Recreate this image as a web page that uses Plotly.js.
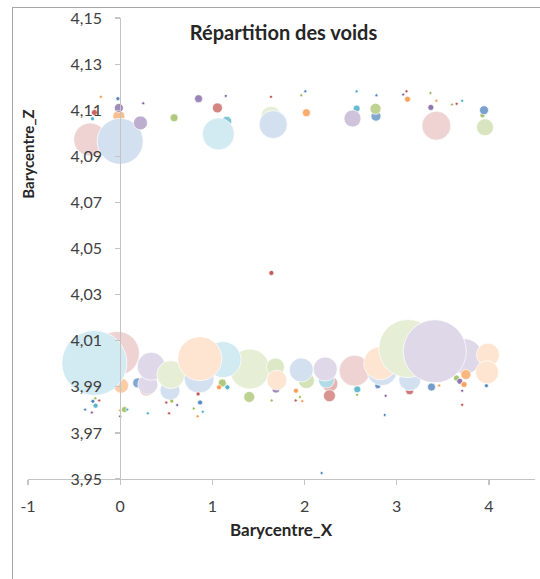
<!DOCTYPE html>
<html>
<head>
<meta charset="utf-8">
<script src="https://cdn.plot.ly/plotly-3.0.1.min.js"></script>
<style>
  html, body { margin: 0; padding: 0; background: #ffffff; }
  #wrap { position: relative; width: 540px; height: 579px; overflow: hidden; }
  #chart { position: absolute; left: 0; top: 0; width: 540px; height: 579px; }
  #frame { position: absolute; left: 12px; top: 7px; width: 600px; height: 600px;
           border-left: 1.5px solid #a6a6a6; border-top: 1.5px solid #a6a6a6; pointer-events: none; }
</style>
</head>
<body>
<div id="wrap"><div id="chart"></div><div id="frame"></div></div>
<script>
// ---- Data ----
const chartTitle = 'Répartition des voids';
const xTitle = 'Barycentre_X';
const yTitle = 'Barycentre_Z';
const xTickValues = [-1, 0, 1, 2, 3, 4];

// palette of the series (Excel 2010 default order)
const seriesColors = ['#4F81BD', '#C0504D', '#9BBB59', '#8064A2', '#4BACC6', '#F79646'];

// one entry per void, listed in drawing order
const barycentreX = [
  -0.014, -0.014, -0.325, 0.0, -0.30, -0.28, -0.21, -0.025, 0.25, 0.22,
  0.585, 0.85, 1.145, 1.055, 1.156, 1.065, 1.636, 1.636, 1.66, 1.965,
  2.008, 2.02, 2.565, 2.565, 2.52, 2.78, 2.775, 2.77, 3.106, 3.07,
  3.117, 3.366, 3.43, 3.37, 3.6, 3.65, 3.71, 3.43, 3.958, 3.93,
  3.947, 1.64, 2.185,
  -0.03, 0.01, -0.28, 0.19, 0.29, 0.30, 0.336, 0.54, 0.55, 0.856,
  1.405, 1.116, 0.864, 1.108, 1.072, 1.163, 1.40, 1.69, 1.685, 1.70,
  2.02, 1.965, 2.275, 2.27, 2.237, 2.225, 2.572, 2.57, 2.543, 2.795,
  2.84, 2.822, 3.14, 3.142, 3.12, 3.738, 3.75, 3.648, 3.684, 3.73,
  3.413, 3.377, 3.46, 3.71, 3.71, 3.973, 3.99, 3.98, 2.88, 2.87,
  -0.228, -0.27, -0.296, -0.267, -0.38, -0.307, 0.0, 0.047, 0.076, 0.0,
  0.3, 0.5, 0.56, 0.618, 0.53, 0.798, 0.84, 0.845, 0.867, 0.896,
  1.643, 1.907, 1.95, 1.904, 1.975
];
const barycentreZ = [
  4.1074, 4.1110, 4.0973, 4.0965, 4.1063, 4.1090, 4.1158, 4.1150, 4.1130, 4.1045,
  4.1067, 4.1150, 4.1162, 4.1110, 4.1052, 4.0997, 4.1158, 4.1074, 4.1038, 4.1165,
  4.1182, 4.1089, 4.1182, 4.1107, 4.1064, 4.1165, 4.1074, 4.1106, 4.1182, 4.1168,
  4.1148, 4.1175, 4.1141, 4.1112, 4.1125, 4.1128, 4.1141, 4.1033, 4.1026, 4.1078,
  4.1100, 4.0394, 3.9526,
  4.0045, 3.9905, 4.0003, 3.9917, 3.9895, 3.9910, 3.9989, 3.9885, 3.9953, 3.9938,
  3.9977, 4.0018, 4.0022, 3.9917, 3.9898, 3.9898, 3.9856, 3.9890, 3.9986, 3.9929,
  3.9927, 3.9973, 3.9913, 3.9861, 3.9929, 3.9977, 3.9889, 3.9866, 3.9970, 3.9905,
  3.9970, 4.0002, 3.9883, 3.9931, 4.0066, 4.0032, 3.9953, 3.9938, 3.9924, 3.9910,
  4.0054, 3.9899, 3.9906, 3.9883, 3.9822, 3.9905, 4.0039, 3.9963, 3.9861, 3.9778,
  3.9841, 3.9850, 3.9837, 3.9818, 3.9801, 3.9789, 3.9798, 3.9801, 3.9801, 3.9772,
  3.9785, 3.9832, 3.9838, 3.9821, 3.9785, 3.9806, 3.9772, 3.9869, 3.9832, 3.9792,
  3.9841, 3.9883, 3.9856, 3.9841, 3.9838
];
// bubble size (relative void size)
const taille = [
  1.44, 0.81, 10.89, 21.16, 0.16, 0.36, 0.04, 0.16, 0.04, 1.96,
  0.64, 0.64, 0.04, 1.00, 1.00, 10.24, 0.04, 4.00, 7.84, 0.04,
  0.04, 0.64, 0.04, 0.49, 2.89, 0.04, 1.00, 1.21, 0.04, 0.04,
  0.36, 0.04, 0.04, 0.36, 0.04, 0.04, 0.04, 8.41, 2.89, 0.25,
  0.81, 0.25, 0.04,
  19.36, 2.25, 42.25, 1.00, 2.56, 4.00, 7.84, 4.00, 7.84, 9.00,
  16.00, 12.96, 19.36, 0.64, 0.25, 0.25, 1.21, 0.64, 3.24, 4.00,
  2.56, 5.76, 2.56, 1.44, 2.56, 5.76, 0.49, 0.09, 9.61, 0.36,
  9.00, 10.89, 0.64, 4.84, 33.64, 12.25, 1.00, 0.36, 0.36, 0.36,
  39.69, 0.64, 0.09, 0.0625, 0.0625, 0.16, 5.29, 5.29, 0.09, 0.09,
  0.04, 0.09, 0.16, 0.25, 0.04, 0.04, 0.04, 0.36, 0.04, 0.04,
  0.04, 0.09, 0.16, 0.04, 0.04, 0.09, 0.04, 0.16, 0.25, 0.04,
  0.04, 0.25, 0.04, 0.04, 0.04
];
// series index of each void (0 blue, 1 red, 2 green, 3 purple, 4 aqua, 5 orange)
const serie = [
  5, 3, 1, 0, 4, 1, 5, 0, 3, 3,
  2, 3, 3, 1, 4, 4, 1, 2, 0, 2,
  0, 5, 4, 4, 3, 0, 0, 2, 1, 3,
  5, 2, 5, 3, 2, 1, 4, 1, 2, 2,
  0, 1, 0,
  1, 5, 4, 0, 1, 3, 3, 0, 2, 0,
  2, 4, 5, 2, 5, 4, 2, 3, 2, 5,
  2, 0, 1, 1, 4, 3, 4, 2, 1, 0,
  0, 5, 1, 0, 2, 3, 5, 2, 3, 5,
  3, 0, 5, 3, 1, 0, 5, 5, 3, 0,
  1, 2, 0, 4, 0, 3, 5, 2, 4, 3,
  4, 1, 2, 3, 1, 2, 5, 1, 0, 4,
  2, 5, 2, 1, 5
];

// ---- Styling helpers ----
const SIZEREF = 0.02; // area mode: diameter(px) = sqrt(2*v/sizeref)
function hexToRgb(h) {
  const n = parseInt(h.slice(1), 16);
  return [(n >> 16) & 255, (n >> 8) & 255, n & 255];
}
function paleColor(hex, v) {
  const d = Math.sqrt(2 * v / SIZEREF);
  let a = 1.15 - 0.045 * d;
  a = Math.max(0.25, Math.min(1, a));
  const c = hexToRgb(hex).map(ch => Math.round(255 - a * (255 - ch)));
  return 'rgb(' + c.join(',') + ')';
}
const fillColors = serie.map((s, i) => paleColor(seriesColors[s], taille[i]));

const trace = {
  type: 'scatter',
  mode: 'markers',
  x: barycentreX,
  y: barycentreZ,
  hoverinfo: 'x+y',
  cliponaxis: false,
  marker: {
    size: taille,
    sizemode: 'area',
    sizeref: SIZEREF,
    sizemin: 1.5,
    color: fillColors,
    opacity: 1,
    line: { color: 'rgba(255,255,255,0.7)', width: 1 }
  }
};

const axisGrey = '#c4c4c4';
const tickFont = { family: 'Lato, "Liberation Sans", sans-serif', size: 16, color: '#404040' };
const layout = {
  width: 540,
  height: 579,
  margin: { l: 28, r: 5, t: 18, b: 100, pad: 0 },
  paper_bgcolor: '#ffffff',
  plot_bgcolor: '#ffffff',
  separators: ', ',
  showlegend: false,
  font: { family: 'Lato, "Liberation Sans", sans-serif', color: '#404040' },
  title: {
    text: '<b>' + chartTitle + '</b>',
    font: { family: 'Lato, sans-serif', size: 20, color: '#262626' },
    xref: 'paper', x: 0.504, xanchor: 'center',
    yref: 'container', y: 1 - 32.5 / 579, yanchor: 'middle'
  },
  xaxis: {
    range: [-1, 4.5],
    tickvals: xTickValues,
    ticktext: xTickValues.map(String),
    showline: true, linecolor: axisGrey, linewidth: 1.2,
    ticks: 'outside', ticklen: 5, tickcolor: axisGrey, tickwidth: 1.2,
    showgrid: false, zeroline: false,
    tickfont: tickFont,
    ticklabelstandoff: 8,
    fixedrange: true
  },
  yaxis: {
    range: [3.95, 4.15],
    tick0: 3.95, dtick: 0.02,
    tickformat: '.2f',
    anchor: 'free', position: 1 / 5.5, side: 'left',
    showline: true, linecolor: axisGrey, linewidth: 1.2,
    ticks: 'outside', ticklen: 5, tickcolor: axisGrey, tickwidth: 1.2,
    showgrid: false, zeroline: false,
    tickfont: tickFont,
    ticklabelstandoff: 10,
    fixedrange: true
  },
  annotations: [
    {
      text: '<b>' + yTitle + '</b>', textangle: -90, showarrow: false,
      xref: 'paper', x: 0.0, xanchor: 'center',
      yref: 'paper', y: 0.7035, yanchor: 'middle',
      font: { family: 'Lato, sans-serif', size: 15, color: '#262626' }
    },
    {
      text: '<b>' + xTitle + '</b>', showarrow: false,
      xref: 'paper', x: 0.5, xanchor: 'center',
      yref: 'paper', y: -0.11, yanchor: 'middle',
      font: { family: 'Lato, sans-serif', size: 17, color: '#262626' }
    }
  ]
};

Plotly.newPlot('chart', [trace], layout, { displayModeBar: false, staticPlot: true });
</script>
</body>
</html>
